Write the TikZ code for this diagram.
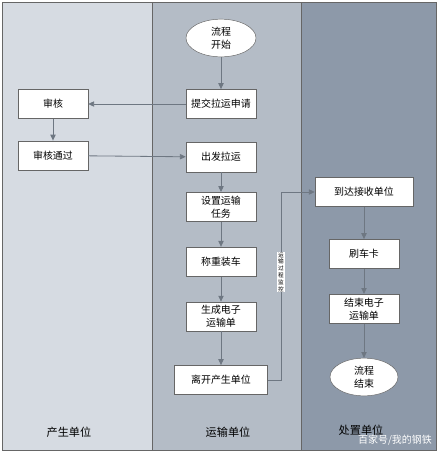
\documentclass[tikz,border=0pt]{standalone}
\usepackage{fontspec}
\setmainfont{Noto Sans CJK SC}
\usepackage{xcolor}
\definecolor{laneA}{HTML}{D6DBE2}
\definecolor{laneB}{HTML}{B4BCC6}
\definecolor{laneC}{HTML}{8D99A9}
\definecolor{edge}{HTML}{6E7782}
\usetikzlibrary{shapes.geometric, arrows.meta, positioning}

\begin{document}
\begin{tikzpicture}[
    x=0.3mm, y=-0.3mm,
    task/.style={draw=black!60, fill=white, align=center, font=\fontsize{8.5}{11}\selectfont, minimum width=21mm, minimum height=8.8mm, inner sep=2pt},
    term/.style={ellipse, draw=black!60, fill=white, align=center, font=\fontsize{8.5}{11}\selectfont, minimum width=21mm, minimum height=11.3mm, inner sep=1pt},
    lane/.style={draw=black!60, line width=0.6pt},
    lanelabel/.style={font=\fontsize{9.5}{11}\selectfont},
    arrow/.style={-{Triangle[length=5pt, width=4.5pt]}, color=edge, line width=0.7pt}
]
\useasboundingbox (0,0) rectangle (439,453);

% Lanes
\fill[white] (0,0) rectangle (439,453);
\filldraw[lane, fill=laneA] (2,2) rectangle (152,450);
\filldraw[lane, fill=laneB] (152,2) rectangle (301,450);
\filldraw[lane, fill=laneC] (301,2) rectangle (436,450);
\node[lanelabel] (lbA) at (69,432) {产生单位};
\node[lanelabel] (lbB) at (228,432) {运输单位};
\node[lanelabel] (lbC) at (361,430) {处置单位};

% Transport column
\node[term] (start) at (221,38) {流程\\开始};
\node[task] (apply) at (221,104) {提交拉运申请};
\node[task, below=7mm of apply] (depart) {出发拉运};
\node[task, below=6mm of depart] (assign) {设置运输\\任务};
\node[task, below=7.5mm of assign] (load) {称重装车};
\node[task, below=7.5mm of load] (bill) {生成电子\\运输单};
\node[task, minimum width=28mm] (leave) at (221,380) {离开产生单位};

% Producer column
\node[task] (review) at (53,104) {审核};
\node[task, below=6.5mm of review] (pass) {审核通过};

% Disposal column
\node[task, minimum width=29.4mm] (arrive) at (364,192) {到达接收单位};
\node[task] (card) at (364,254) {刷车卡};
\node[task, below=7.5mm of card] (close) {结束电子\\运输单};
\node[term, minimum width=20.4mm] (finish) at (364,377) {流程\\结束};

% Connectors
\draw[arrow] (start) -- (apply);
\draw[arrow] (apply) -- (review);
\draw[arrow] (review) -- (pass);
\draw[arrow] (pass) -- (depart);
\draw[arrow] (depart) -- (assign);
\draw[arrow] (assign) -- (load);
\draw[arrow] (load) -- (bill);
\draw[arrow] (bill) -- (leave);
\coordinate (bend) at (281,192);
\draw[arrow] (leave.east) -| (bend) -- (arrive.west);
\node[fill=white, inner sep=0.8pt, align=center, font=\fontsize{4.8}{5.8}\selectfont] (watch) at (281,272) {运\\输\\过\\程\\监\\控};
\draw[arrow] (arrive) -- (card);
\draw[arrow] (card) -- (close);
\draw[arrow] (close) -- (finish);

\node[text=white, font=\fontsize{8.5}{9}\selectfont] (mark) at (395,440) {百家号/我的钢铁};

\end{tikzpicture}
\end{document}
